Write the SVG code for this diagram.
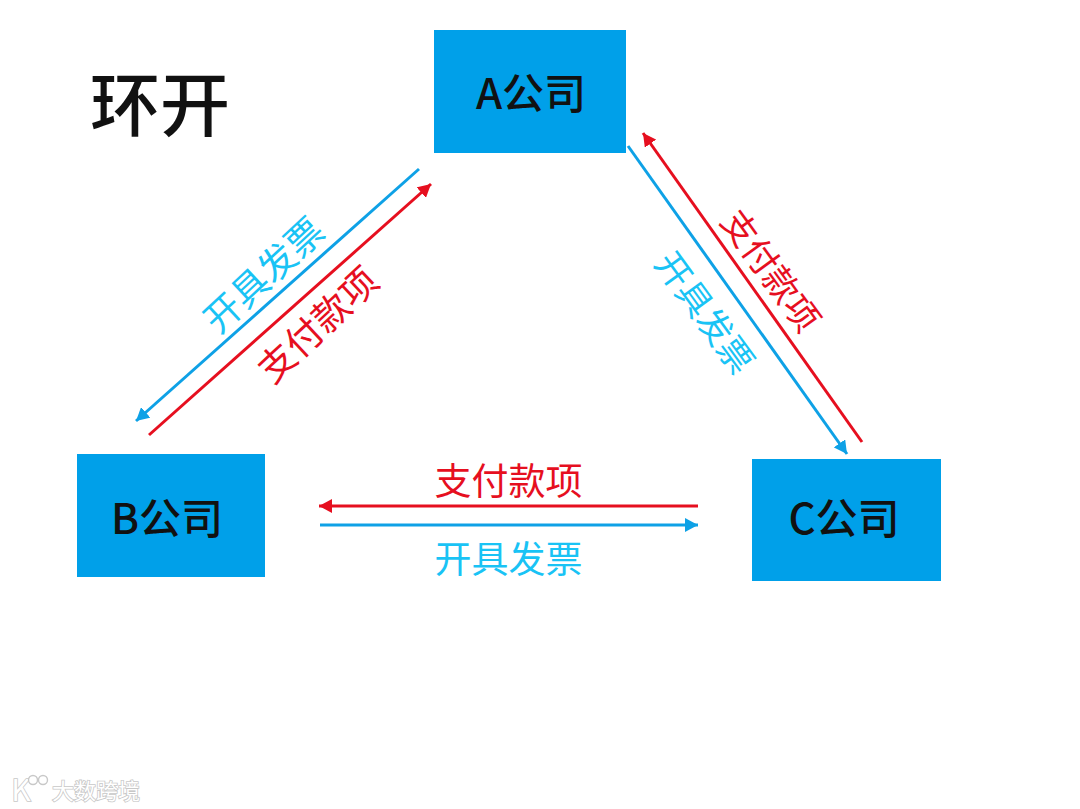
<svg xmlns="http://www.w3.org/2000/svg" width="1080" height="809" viewBox="0 0 1080 809">
<style>
text{font-family:"Noto Sans CJK SC","Noto Sans",sans-serif;text-anchor:middle;dominant-baseline:central}
.box{fill:#00a0e9}
.name{font-size:42px;fill:#111;font-weight:500}
.pay{font-size:37px;fill:#e60f1f}
.inv{font-size:37px;fill:#19c3f5}
.nar{font-size:35px}
.r{stroke:#e60f1f;stroke-width:3;fill:none;marker-end:url(#mr)}
.b{stroke:#0ea1e6;stroke-width:3;fill:none;marker-end:url(#mb)}
.wm{font-size:22px;fill:#fff;stroke:#c8c8c8;stroke-width:1.6px;paint-order:stroke}
.ring{fill:#fff;stroke:#c8c8c8;stroke-width:1.400}
</style>
<defs>
<marker id="mr" markerUnits="userSpaceOnUse" markerWidth="15" markerHeight="14" refX="13" refY="7" orient="auto"><path d="M0 0L13 7L0 14Z" fill="#e60f1f"/></marker>
<marker id="mb" markerUnits="userSpaceOnUse" markerWidth="15" markerHeight="14" refX="13" refY="7" orient="auto"><path d="M0 0L13 7L0 14Z" fill="#0ea1e6"/></marker>
</defs>
<rect width="1080" height="809" fill="#fff"/>
<text id="title" x="160" y="100" font-size="70" font-weight="500" fill="#111">环开</text>
<g id="node-a"><rect class="box" x="434" y="30" width="192" height="123"/><text class="name" x="531" y="90">A公司</text></g>
<g id="node-b"><rect class="box" x="77" y="454" width="188" height="123"/><text class="name" x="167" y="515">B公司</text></g>
<g id="node-c"><rect class="box" x="752" y="459" width="189" height="122"/><text class="name" x="844" y="515">C公司</text></g>
<g id="connectors">
<line class="b" x1="419" y1="169" x2="136" y2="421"/>
<line class="r" x1="149" y1="435" x2="431" y2="184"/>
<line class="b" x1="628" y1="146" x2="847" y2="454"/>
<line class="r" x1="862" y1="442" x2="643" y2="133"/>
<line class="r" x1="698" y1="506" x2="319" y2="506"/>
<line class="b" x1="320" y1="525" x2="698" y2="525"/>
</g>
<g id="labels">
<text class="pay" x="508.500" y="479">支付款项</text>
<text class="inv" x="508.500" y="557">开具发票</text>
<text class="inv" transform="translate(262 273) rotate(-43)">开具发票</text>
<text class="pay" transform="translate(316 323) rotate(-43)">支付款项</text>
<text class="pay nar" transform="translate(773 269) rotate(54)">支付款项</text>
<text class="inv nar" transform="translate(707 311) rotate(54)">开具发票</text>
</g>
<g id="watermark">
<text class="wm" x="96" y="789">大数跨境</text>
<text class="wm" x="21" y="788" style="font-size:30px">K</text>
<circle class="ring" cx="33" cy="780" r="4.500"/>
<circle class="ring" cx="43" cy="780" r="4.500"/>
</g>
</svg>
